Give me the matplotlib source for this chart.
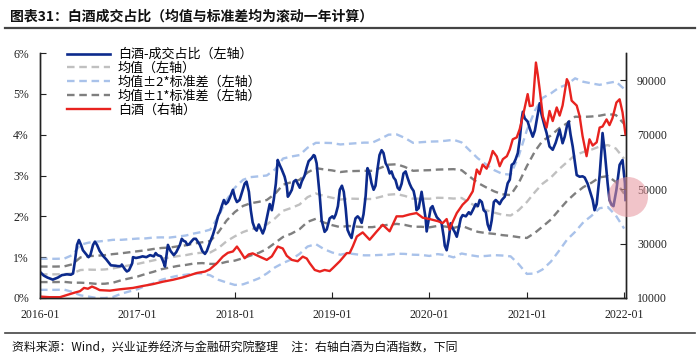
import numpy as np
import pandas as pd
import matplotlib
matplotlib.use("Agg")
import matplotlib.pyplot as plt
import matplotlib.dates as mdates
from matplotlib.ticker import PercentFormatter
from matplotlib.lines import Line2D
from matplotlib.patches import Ellipse

plt.rcParams['font.family'] = ['Noto Sans CJK SC', 'DejaVu Sans']

# 白酒-成交占比 (%)
share_dates = [
    "2016-01-04", "2016-01-15", "2016-01-29", "2016-02-18", "2016-03-08", "2016-03-23", "2016-04-11", "2016-04-26",
    "2016-05-04", "2016-05-11", "2016-05-19", "2016-05-26", "2016-06-03", "2016-06-10", "2016-06-21", "2016-07-01",
    "2016-07-08", "2016-07-18", "2016-07-25", "2016-08-02", "2016-08-12", "2016-08-26", "2016-09-05", "2016-09-16",
    "2016-09-23", "2016-10-11", "2016-10-19", "2016-10-31", "2016-11-03", "2016-11-15", "2016-11-22", "2016-11-30",
    "2016-12-12", "2016-12-15", "2016-12-26", "2017-01-10", "2017-01-20", "2017-02-03", "2017-02-17", "2017-03-03",
    "2017-03-10", "2017-03-17", "2017-03-30", "2017-04-07", "2017-04-14", "2017-04-21", "2017-04-25", "2017-05-05",
    "2017-05-17", "2017-05-26", "2017-06-09", "2017-06-16", "2017-06-23", "2017-06-30", "2017-07-07", "2017-07-14",
    "2017-07-24", "2017-07-31", "2017-08-08", "2017-08-15", "2017-08-23", "2017-09-01", "2017-09-11", "2017-09-18",
    "2017-09-29", "2017-10-11", "2017-10-18", "2017-10-30", "2017-11-06", "2017-11-13", "2017-11-21", "2017-11-28",
    "2017-12-06", "2017-12-13", "2017-12-25", "2018-01-02", "2018-01-09", "2018-01-19", "2018-01-26", "2018-02-07",
    "2018-02-14", "2018-02-23", "2018-03-02", "2018-03-09", "2018-03-17", "2018-03-24", "2018-04-01", "2018-04-08",
    "2018-04-16", "2018-04-23", "2018-05-01", "2018-05-12", "2018-05-20", "2018-05-27", "2018-06-04", "2018-06-11",
    "2018-06-19", "2018-06-26", "2018-07-07", "2018-07-15", "2018-07-19", "2018-07-26", "2018-08-03", "2018-08-10",
    "2018-08-18", "2018-08-25", "2018-09-02", "2018-09-09", "2018-09-20", "2018-09-28", "2018-10-05", "2018-10-17",
    "2018-10-24", "2018-10-28", "2018-11-04", "2018-11-16", "2018-11-23", "2018-12-04", "2018-12-12", "2018-12-23",
    "2019-01-02", "2019-01-08", "2019-01-15", "2019-01-23", "2019-01-30", "2019-02-07", "2019-02-14", "2019-02-21",
    "2019-02-28", "2019-03-08", "2019-03-15", "2019-03-23", "2019-03-30", "2019-04-07", "2019-04-14", "2019-04-22",
    "2019-04-29", "2019-05-07", "2019-05-14", "2019-05-22", "2019-05-29", "2019-06-06", "2019-06-13", "2019-06-21",
    "2019-06-28", "2019-07-06", "2019-07-13", "2019-07-21", "2019-07-28", "2019-08-05", "2019-08-12", "2019-08-20",
    "2019-08-27", "2019-09-04", "2019-09-11", "2019-09-19", "2019-09-26", "2019-10-04", "2019-10-11", "2019-10-19",
    "2019-10-26", "2019-11-03", "2019-11-10", "2019-11-14", "2019-11-22", "2019-11-29", "2019-12-03", "2019-12-10",
    "2019-12-18", "2019-12-22", "2019-12-29", "2020-01-06", "2020-01-13", "2020-01-21", "2020-01-29", "2020-02-09",
    "2020-02-16", "2020-02-24", "2020-02-28", "2020-03-06", "2020-03-14", "2020-03-21", "2020-03-29", "2020-04-05",
    "2020-04-13", "2020-04-20", "2020-04-28", "2020-05-05", "2020-05-17", "2020-05-28", "2020-06-04", "2020-06-12",
    "2020-06-23", "2020-07-01", "2020-07-08", "2020-07-16", "2020-07-23", "2020-07-31", "2020-08-07", "2020-08-15",
    "2020-08-22", "2020-08-30", "2020-09-06", "2020-09-14", "2020-09-21", "2020-09-29", "2020-10-10", "2020-10-21",
    "2020-10-29", "2020-11-05", "2020-11-13", "2020-11-20", "2020-11-28", "2020-12-05", "2020-12-13", "2020-12-17",
    "2020-12-24", "2021-01-04", "2021-01-12", "2021-01-23", "2021-01-31", "2021-02-07", "2021-02-18", "2021-02-25",
    "2021-03-09", "2021-03-16", "2021-03-27", "2021-04-08", "2021-04-19", "2021-05-04", "2021-05-15", "2021-05-23",
    "2021-05-31", "2021-06-07", "2021-06-14", "2021-06-22", "2021-06-29", "2021-07-07", "2021-07-18", "2021-07-29",
    "2021-08-06", "2021-08-17", "2021-08-24", "2021-09-05", "2021-09-12", "2021-09-20", "2021-10-01", "2021-10-08",
    "2021-10-12", "2021-10-20", "2021-10-31", "2021-11-07", "2021-11-15", "2021-11-22", "2021-12-03", "2021-12-15",
    "2021-12-26", "2022-01-04", "2022-01-06",
]
share_vals = [
    0.62, 0.55, 0.50, 0.45, 0.50, 0.56, 0.58, 0.57,
    0.60, 0.90, 1.30, 1.42, 1.30, 1.17, 1.08, 1.00,
    1.05, 1.30, 1.38, 1.30, 1.15, 1.02, 0.95, 0.86,
    0.80, 0.79, 0.78, 0.78, 0.82, 0.70, 0.65, 0.68,
    0.85, 1.00, 0.98, 1.00, 1.02, 1.00, 1.05, 1.02,
    1.10, 1.05, 1.02, 0.90, 0.77, 1.10, 1.30, 1.15,
    1.05, 1.12, 1.30, 1.45, 1.40, 1.38, 1.30, 1.32,
    1.40, 1.45, 1.45, 1.38, 1.30, 1.15, 1.08, 1.15,
    1.35, 1.55, 1.70, 2.00, 2.10, 2.25, 2.40, 2.30,
    2.35, 2.45, 2.65, 2.45, 2.35, 2.40, 2.55, 2.80,
    2.85, 2.60, 2.15, 1.85, 1.70, 1.65, 1.80, 1.70,
    1.58, 1.70, 1.95, 2.30, 2.15, 2.40, 2.80, 3.38,
    3.25, 3.15, 2.97, 2.75, 2.48, 2.55, 2.65, 2.85,
    2.89, 2.80, 2.70, 2.85, 3.00, 3.20, 3.35, 3.43,
    3.50, 3.48, 3.30, 2.48, 1.90, 1.62, 1.68, 1.95,
    2.00, 1.95, 2.05, 2.25, 2.65, 2.75, 2.60, 2.20,
    1.67, 1.55, 1.47, 1.75, 1.95, 2.00, 1.95, 1.84,
    2.05, 2.50, 3.18, 3.05, 2.81, 2.65, 2.75, 3.18,
    3.50, 3.62, 3.55, 3.30, 3.22, 3.05, 3.10, 2.95,
    2.89, 2.70, 2.65, 2.80, 3.05, 3.10, 2.95, 2.80,
    2.70, 2.62, 2.40, 2.15, 2.20, 2.45, 2.60, 2.30,
    1.95, 1.63, 1.90, 2.20, 2.25, 2.10, 1.98, 1.90,
    1.83, 1.50, 1.28, 1.17, 1.45, 1.83, 1.70, 1.62,
    1.50, 1.70, 1.95, 2.03, 2.00, 2.10, 2.05, 2.15,
    2.30, 2.25, 2.40, 2.35, 2.15, 2.10, 1.80, 1.66,
    1.90, 2.35, 2.40, 2.35, 2.30, 2.40, 2.48, 2.81,
    2.90, 3.26, 3.30, 3.40, 3.55, 3.87, 4.40, 4.56,
    4.40, 4.32, 4.15, 3.95, 4.10, 4.36, 4.77, 4.50,
    4.20, 4.04, 3.71, 3.63, 3.80, 4.12, 3.79, 3.95,
    4.20, 4.32, 4.00, 3.71, 3.38, 3.01, 2.97, 2.98,
    2.95, 2.80, 2.65, 2.40, 2.15, 2.30, 3.00, 3.63,
    4.04, 3.60, 2.81, 2.40, 2.28, 2.25, 2.65, 3.26,
    3.38, 2.81, 2.40,
]

# 滚动一年均值与标准差 (%), 月度
band_dates = pd.date_range("2016-01-01", "2022-01-01", freq="MS")
roll_mean = [
    0.58, 0.58, 0.58, 0.585, 0.60, 0.685, 0.695, 0.69, 0.70, 0.725, 0.765, 0.80,
    0.835, 0.88, 0.92, 0.965, 0.99, 1.025, 1.05, 1.09, 1.11, 1.115, 1.225, 1.39,
    1.51, 1.615, 1.68, 1.73, 1.80, 1.95, 2.135, 2.205, 2.29, 2.47, 2.56, 2.50,
    2.455, 2.41, 2.435, 2.43, 2.425, 2.425, 2.475, 2.53, 2.545, 2.50, 2.43, 2.435,
    2.43, 2.455, 2.45, 2.435, 2.45, 2.33, 2.22, 2.15, 2.09, 2.04, 2.02, 2.15,
    2.35, 2.60, 2.80, 2.95, 3.15, 3.33, 3.50, 3.575, 3.635, 3.71, 3.745, 3.66,
    3.41,
]
roll_std = [
    0.19, 0.19, 0.19, 0.19, 0.225, 0.31, 0.33, 0.345, 0.35, 0.35, 0.33, 0.32,
    0.31, 0.29, 0.28, 0.26, 0.245, 0.24, 0.24, 0.245, 0.255, 0.28, 0.39, 0.505,
    0.595, 0.64, 0.64, 0.625, 0.60, 0.60, 0.64, 0.63, 0.605, 0.605, 0.62, 0.65,
    0.67, 0.675, 0.67, 0.68, 0.69, 0.69, 0.71, 0.735, 0.73, 0.71, 0.685, 0.69,
    0.70, 0.69, 0.70, 0.72, 0.68, 0.64, 0.60, 0.56, 0.52, 0.50, 0.50, 0.66,
    0.88, 1.00, 1.05, 1.03, 1.00, 0.95, 0.94, 0.86, 0.81, 0.755, 0.76, 0.82,
    0.855,
]

# 白酒指数 (右轴)
idx_dates = [
    "2016-01-04", "2016-02-05", "2016-03-16", "2016-04-11", "2016-05-11", "2016-05-30", "2016-06-14", "2016-06-29",
    "2016-07-14", "2016-07-29", "2016-08-12", "2016-09-19", "2016-10-27", "2016-12-15", "2017-01-20", "2017-02-28",
    "2017-04-07", "2017-05-14", "2017-06-21", "2017-07-17", "2017-08-12", "2017-09-11", "2017-09-29", "2017-10-26",
    "2017-11-17", "2017-12-06", "2017-12-25", "2018-01-09", "2018-01-19", "2018-02-07", "2018-02-22", "2018-03-09",
    "2018-04-04", "2018-05-01", "2018-05-20", "2018-06-11", "2018-06-30", "2018-07-15", "2018-08-03", "2018-08-25",
    "2018-09-13", "2018-09-28", "2018-10-09", "2018-10-28", "2018-11-16", "2018-12-04", "2018-12-23", "2019-01-04",
    "2019-01-30", "2019-02-25", "2019-03-08", "2019-03-20", "2019-04-04", "2019-04-26", "2019-05-22", "2019-06-18",
    "2019-07-10", "2019-08-05", "2019-08-31", "2019-09-23", "2019-10-19", "2019-11-14", "2019-12-07", "2020-01-02",
    "2020-02-03", "2020-02-20", "2020-03-06", "2020-03-17", "2020-03-29", "2020-04-13", "2020-05-05", "2020-05-24",
    "2020-06-12", "2020-06-27", "2020-07-08", "2020-07-19", "2020-08-03", "2020-08-15", "2020-08-26", "2020-09-10",
    "2020-09-21", "2020-10-03", "2020-10-18", "2020-10-29", "2020-11-09", "2020-11-24", "2020-12-05", "2020-12-17",
    "2021-01-04", "2021-01-12", "2021-01-23", "2021-02-04", "2021-02-11", "2021-02-18", "2021-03-02", "2021-03-16",
    "2021-03-27", "2021-04-08", "2021-04-23", "2021-05-04", "2021-05-15", "2021-05-31", "2021-06-07", "2021-06-18",
    "2021-07-07", "2021-07-18", "2021-07-29", "2021-08-13", "2021-08-24", "2021-09-05", "2021-09-20", "2021-10-01",
    "2021-10-12", "2021-10-27", "2021-11-07", "2021-11-18", "2021-12-03", "2021-12-15", "2021-12-26", "2022-01-06",
]
idx_vals = [
    10500, 10300, 10300, 11100, 12000, 12500, 13700, 13400,
    14200, 13600, 12900, 12700, 13200, 13700, 14400, 15100,
    16000, 16700, 17600, 18400, 19200, 19700, 20500, 22800,
    25200, 26600, 27100, 28900, 27500, 24600, 26000, 26400,
    25200, 24000, 25300, 28900, 28200, 25500, 24000, 23500,
    25200, 24500, 22800, 20300, 19700, 20300, 19900, 21000,
    23500, 26500, 26500, 29000, 32600, 34100, 31400, 34500,
    36900, 34500, 40000, 40000, 40700, 41200, 39500, 39000,
    38200, 37500, 39000, 35100, 38000, 41200, 44300, 46100,
    49200, 57200, 55500, 59000, 57500, 60300, 64000, 62000,
    58400, 61000, 62100, 64600, 68300, 69000, 72000, 76800,
    84900, 80500, 80700, 96500, 92000, 86700, 76800, 72600,
    78700, 75000, 80000, 77000, 80700, 90400, 89000, 82500,
    80700, 76800, 69500, 62100, 68300, 66000, 67200, 72600,
    73000, 75600, 73500, 76000, 81800, 83000, 78200, 70100,
]

labels = ["白酒-成交占比（左轴）", "均值（左轴）", "均值±2*标准差（左轴）",
          "均值±1*标准差（左轴）", "白酒（右轴）"]
year_ticks = ["2016-01-01", "2017-01-01", "2018-01-01", "2019-01-01",
              "2020-01-01", "2021-01-01", "2022-01-01"]

c_blue = "#0c2a8c"
c_red = "#e8231f"
c_mean = "#c0c0c0"
c_std2 = "#a9c2ea"
c_std1 = "#7f7f7f"

share_dates = pd.to_datetime(share_dates)
idx_dates = pd.to_datetime(idx_dates)
m = np.array(roll_mean)
s = np.array(roll_std)

fig = plt.figure(figsize=(7, 3.62), dpi=100)
ax = fig.add_axes([40 / 700, 1 - 298 / 362, 586 / 700, 245 / 362])
ax2 = ax.twinx()

dash = dict(dashes=(3.2, 2.0), lw=1.7)
ax.plot(band_dates, m + 2 * s, color=c_std2, **dash)
ax.plot(band_dates, m - 2 * s, color=c_std2, **dash)
ax.plot(band_dates, m + s, color=c_std1, **dash)
ax.plot(band_dates, m - s, color=c_std1, **dash)
ax.plot(band_dates, m, color=c_mean, **dash)
ax.plot(share_dates, share_vals, color=c_blue, lw=1.9)
ax2.plot(idx_dates, idx_vals, color=c_red, lw=1.7)

ax.set_ylim(0, 6)
ax.set_yticks(range(0, 7))
ax.yaxis.set_major_formatter(PercentFormatter(xmax=100, decimals=0))
ax2.set_ylim(10000, 100000)
ax2.set_yticks([10000, 30000, 50000, 70000, 90000])
ax.set_xlim(pd.Timestamp("2016-01-01"), pd.Timestamp("2022-01-08"))
ax.set_xticks(pd.to_datetime(year_ticks))
ax.xaxis.set_major_formatter(mdates.DateFormatter("%Y-%m"))

tick_font = dict(family="Liberation Serif", size=8.5)
for a in (ax, ax2):
    a.spines["top"].set_visible(False)
    for sp in a.spines.values():
        sp.set_color("#222222")
        sp.set_linewidth(1.0)
    a.tick_params(direction="in", length=4, width=0.8, pad=8, colors="#222222")
    for lab in a.get_xticklabels() + a.get_yticklabels():
        lab.set_fontfamily(tick_font["family"])
        lab.set_fontsize(tick_font["size"])

handles = [
    Line2D([], [], color=c_blue, lw=1.9),
    Line2D([], [], color=c_mean, **dash),
    Line2D([], [], color=c_std2, **dash),
    Line2D([], [], color=c_std1, **dash),
    Line2D([], [], color=c_red, lw=1.7),
]
ax2.legend(handles, labels, loc="upper left", bbox_to_anchor=(0.046, 1.02),
           frameon=False, fontsize=9.4, handlelength=3.3, handletextpad=0.6,
           labelspacing=0.07, borderpad=0, borderaxespad=0)

# title and footer
fig.text(10 / 700, 1 - 17 / 362, "图表31：白酒成交占比（均值与标准差均为滚动一年计算）",
         fontsize=10, fontweight="bold", va="center", ha="left", color="#111111")
fig.add_artist(Line2D([5 / 700, 695 / 700], [1 - 28 / 362] * 2, color="#444444", lw=1.6))
fig.add_artist(Line2D([5 / 700, 695 / 700], [1 - 333 / 362] * 2, color="#444444", lw=1.2))
fig.text(12 / 700, 1 - 348 / 362,
         "资料来源：Wind，兴业证券经济与金融研究院整理     注：右轴白酒为白酒指数，下同",
         fontsize=8.6, va="center", ha="left", color="#111111")

# translucent marker circle seen in the screenshot
fig.add_artist(Ellipse((628 / 700, 1 - 197 / 362), 40 / 700, 40 / 362,
                       transform=fig.transFigure, color="#e6959d", alpha=0.55, lw=0))

fig.savefig("out.png", dpi=100, facecolor="white")
